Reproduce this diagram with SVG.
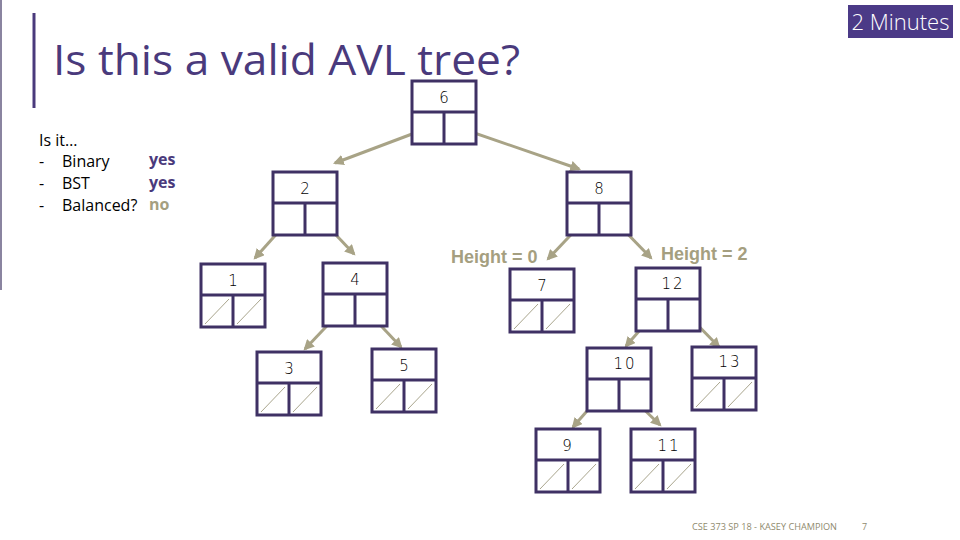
<svg xmlns="http://www.w3.org/2000/svg" width="960" height="540" viewBox="0 0 960 540">
<defs>
<style>
.box{fill:#fff;stroke:#3f3164;stroke-width:3}
.div{stroke:#3f3164;stroke-width:3}
.sl{stroke:#a9a58d;stroke-width:1}
.num{font-family:"DejaVu Sans","Liberation Sans",sans-serif;font-weight:200;font-size:15px;fill:#000;text-anchor:middle}
.mono{font-family:"DejaVu Sans","Liberation Sans",sans-serif;font-weight:200;font-size:15px;fill:#000;text-anchor:middle;letter-spacing:2px}
.conn{stroke:#a8a386;stroke-width:3;fill:none;marker-end:url(#ah)}
.lbl{font-family:"Open Sans","Noto Sans",sans-serif;font-size:16px}
.ht{font-family:"Liberation Sans",Arial,sans-serif;font-weight:bold;font-size:18px;fill:#a59f80}
</style>
<marker id="ah" viewBox="0 0 10 10" refX="8" refY="5" markerWidth="3.6" markerHeight="3.6" orient="auto" markerUnits="strokeWidth">
<path d="M0,0 L10,5 L0,10 z" fill="#a8a386"/>
</marker>
<g id="box">
<rect class="box" x="0" y="0" width="64" height="63"/>
<line class="div" x1="0" y1="31" x2="64" y2="31"/>
<line class="div" x1="32" y1="31" x2="32" y2="63"/>
</g>
<g id="nil">
<line class="sl" x1="4" y1="60" x2="28" y2="35"/>
<line class="sl" x1="36" y1="60" x2="60" y2="35"/>
</g>
</defs>
<rect width="960" height="540" fill="#fff"/>
<line x1="1" y1="0" x2="1" y2="290" stroke="#8a84a0" stroke-width="2"/>
<line x1="34" y1="13" x2="34" y2="108" stroke="#4a3a7c" stroke-width="3"/>
<text x="53" y="75" font-family="'Open Sans','Noto Sans',sans-serif" font-size="42" fill="#4a3a7c" textLength="467" lengthAdjust="spacingAndGlyphs">Is this a valid AVL tree?</text>
<g id="badge">
<rect x="848" y="5" width="105" height="33" fill="#4b3a87"/>
<text x="900.5" y="30" font-family="'Open Sans','Noto Sans',sans-serif" font-weight="300" font-size="22" fill="#fff" text-anchor="middle">2 Minutes</text>
</g>
<g id="questions" class="lbl">
<text x="39" y="146" fill="#000">Is it…</text>
<text x="39" y="167" fill="#000">-</text><text x="62" y="167" fill="#000">Binary</text>
<text x="39" y="189" fill="#000">-</text><text x="62" y="189" fill="#000">BST</text>
<text x="39" y="211" fill="#000">-</text><text x="62" y="211" fill="#000">Balanced?</text>
<text x="149" y="165" fill="#4a3a7c" font-weight="bold">yes</text>
<text x="149" y="188" fill="#4a3a7c" font-weight="bold">yes</text>
<text x="149" y="210" fill="#a59f80" font-weight="bold">no</text>
</g>
<g id="connectors">
<line class="conn" x1="428" y1="128" x2="335" y2="163"/>
<line class="conn" x1="460" y1="128" x2="579" y2="169"/>
<line class="conn" x1="290" y1="219" x2="255" y2="258"/>
<line class="conn" x1="319" y1="217" x2="354" y2="254"/>
<line class="conn" x1="584" y1="221" x2="548" y2="259"/>
<line class="conn" x1="615" y1="221" x2="651" y2="258"/>
<line class="conn" x1="341" y1="311" x2="305" y2="349"/>
<line class="conn" x1="366" y1="310" x2="401" y2="347"/>
<line class="conn" x1="661" y1="306" x2="626" y2="346"/>
<line class="conn" x1="684" y1="311" x2="719" y2="347"/>
<line class="conn" x1="608" y1="387" x2="573" y2="427"/>
<line class="conn" x1="626" y1="392" x2="660" y2="425"/>
</g>
<text class="ht" x="451" y="263">Height = 0</text>
<text class="ht" x="661" y="260">Height = 2</text>
<g id="n6" transform="translate(412,81)"><use href="#box"/><text class="num" x="32" y="22">6</text></g>
<g id="n2" transform="translate(273,172)"><use href="#box"/><text class="num" x="32" y="22">2</text></g>
<g id="n8" transform="translate(567,172)"><use href="#box"/><text class="num" x="32" y="22">8</text></g>
<g id="n1" transform="translate(201,264)"><use href="#box"/><use href="#nil"/><text class="num" x="32" y="22">1</text></g>
<g id="n4" transform="translate(323,263)"><use href="#box"/><text class="num" x="32" y="22">4</text></g>
<g id="n7" transform="translate(510,269)"><use href="#box"/><use href="#nil"/><text class="num" x="32" y="22">7</text></g>
<g id="n12" transform="translate(636,268)"><use href="#box"/><text class="mono" x="37" y="21">12</text></g>
<g id="n3" transform="translate(257,352)"><use href="#box"/><use href="#nil"/><text class="num" x="32" y="22">3</text></g>
<g id="n5" transform="translate(372,349)"><use href="#box"/><use href="#nil"/><text class="num" x="32" y="22">5</text></g>
<g id="n10" transform="translate(587,348)"><use href="#box"/><text class="mono" x="38" y="21">10</text></g>
<g id="n13" transform="translate(692,347)"><use href="#box"/><use href="#nil"/><text class="mono" x="38" y="20">13</text></g>
<g id="n9" transform="translate(536,429)"><use href="#box"/><use href="#nil"/><text class="num" x="31" y="22">9</text></g>
<g id="n11" transform="translate(631,429)"><use href="#box"/><use href="#nil"/><text class="mono" x="38" y="22">11</text></g>
<g id="footer" font-family="'Open Sans','Noto Sans',sans-serif" font-size="9" fill="#8f8a6e">
<text x="692" y="530" textLength="145" lengthAdjust="spacingAndGlyphs">CSE 373 SP 18 - KASEY CHAMPION</text>
<text x="862" y="530">7</text>
</g>
</svg>
